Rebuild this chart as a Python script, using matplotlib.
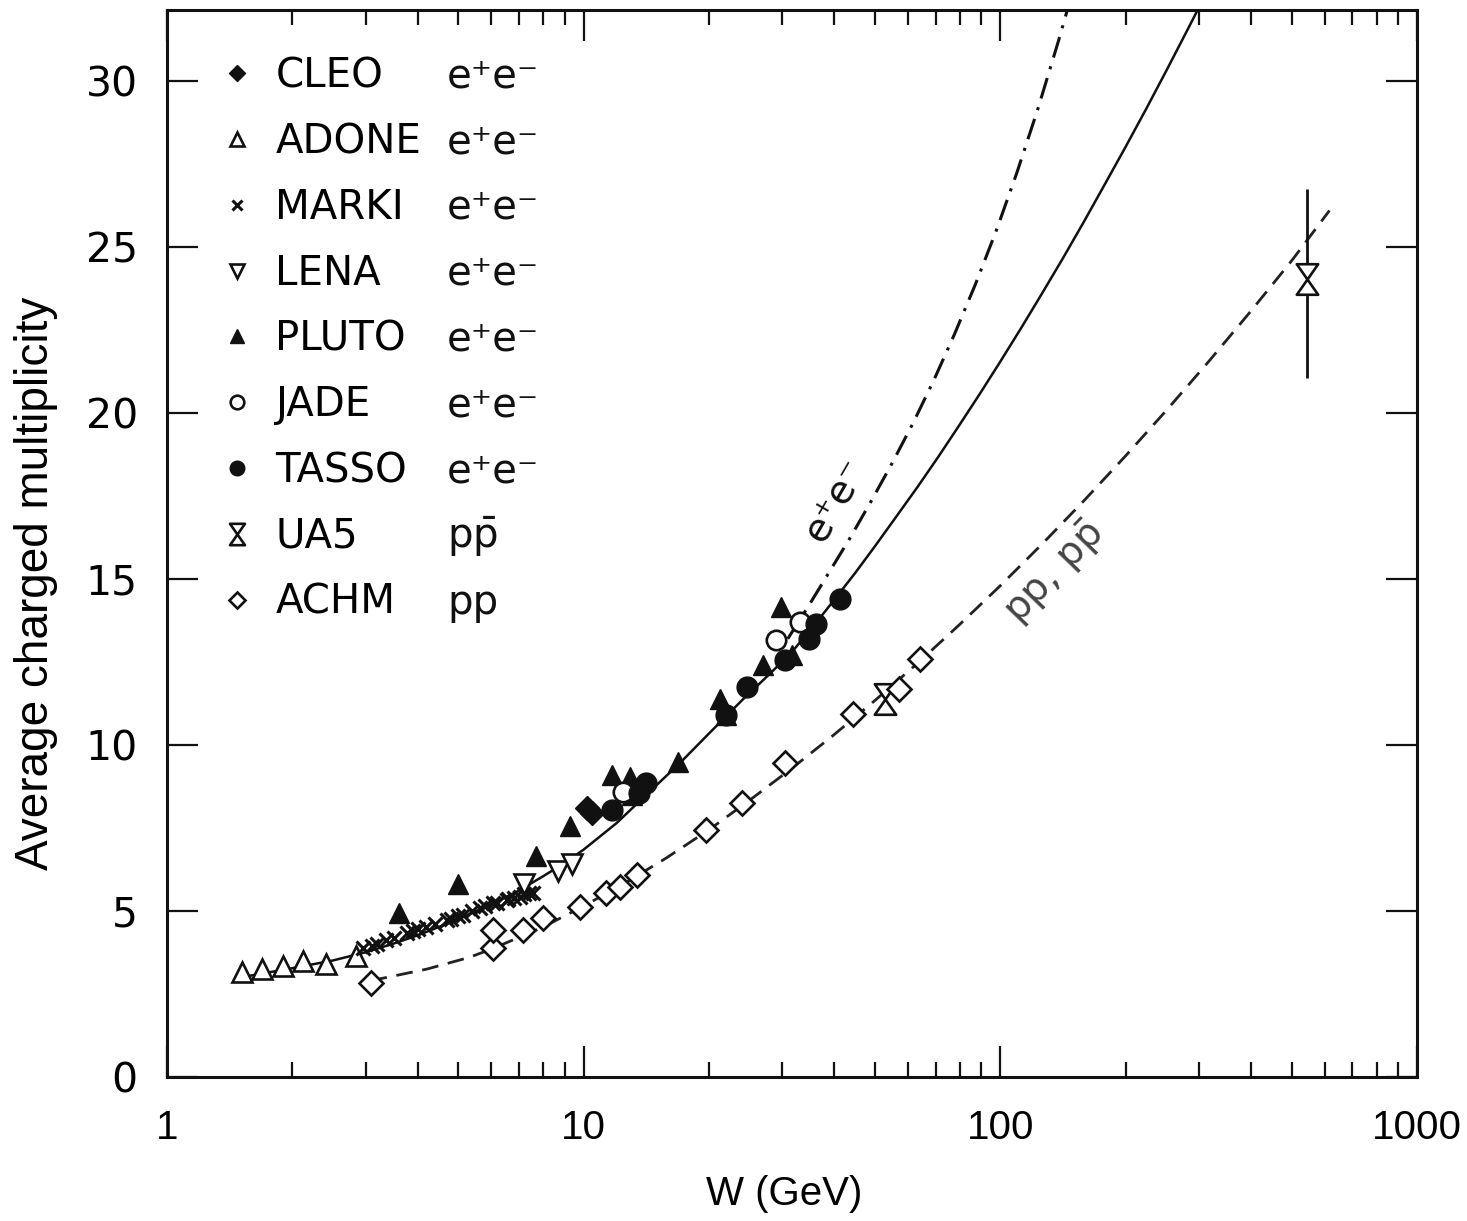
#average charged multiplicity vs W, e+e- and pp data with fits

import numpy as np
import matplotlib
matplotlib.use("Agg")
import matplotlib.pyplot as plt
from matplotlib.path import Path
from matplotlib import font_manager

#fonts

names = {f.name for f in font_manager.fontManager.ttflist}
narrow = 'Liberation Sans Narrow' if 'Liberation Sans Narrow' in names else 'Liberation Sans'
narrow_size = 32 if narrow == 'Liberation Sans Narrow' else 29
plt.rcParams['font.family'] = ['DejaVu Sans']
plt.rcParams['mathtext.fontset'] = 'dejavusans'

#data (W in GeV, multiplicity)

cleo_w = [10.2, 10.5]
cleo_n = [8.1, 7.95]

adone_w = [1.51, 1.69, 1.90, 2.12, 2.41, 2.85]
adone_n = [3.15, 3.25, 3.35, 3.5, 3.4, 3.65]

marki_w = [2.96, 3.1, 3.2, 3.36, 3.5, 3.76, 3.9, 4.0, 4.19, 4.4, 4.69, 4.8, 5.0, 5.14,
           5.4, 5.63, 5.8, 6.06, 6.2, 6.53, 6.6, 6.8, 7.03, 7.2, 7.4, 7.56]
marki_n = [3.88, 3.95, 4.0, 4.13, 4.2, 4.33, 4.4, 4.45, 4.53, 4.6, 4.73, 4.75, 4.85, 4.88,
           5.0, 5.08, 5.15, 5.23, 5.25, 5.33, 5.35, 5.4, 5.43, 5.5, 5.55, 5.53]

lena_w = [7.2, 8.7, 9.4]
lena_n = [5.8, 6.2, 6.42]

pluto_w = [3.6, 5.0, 7.7, 9.3, 11.7, 12.9, 13.1, 16.8, 21.3, 22.0, 27.0, 29.8, 31.6]
pluto_n = [4.95, 5.8, 6.65, 7.55, 9.1, 9.05, 8.5, 9.5, 11.4, 10.9, 12.4, 14.15, 12.7]

jade_w = [12.4, 29.0, 33.0]
jade_n = [8.6, 13.15, 13.7]

tasso_w = [11.7, 13.6, 14.1, 22.0, 24.6, 30.5, 34.8, 36.1, 41.3]
tasso_n = [8.05, 8.55, 8.85, 10.9, 11.75, 12.55, 13.2, 13.65, 14.4]

ua5_w = [53.0, 546.0]
ua5_n = [11.4, 24.05]
ua5_err_lo = [0.0, 3.0]
ua5_err_hi = [0.0, 2.7]

achm_w = [3.08, 6.06, 6.06, 7.17, 8.0, 9.8, 11.3, 12.2, 13.4, 19.7, 24.0, 30.5, 44.4, 57.0, 64.0]
achm_n = [2.83, 3.88, 4.43, 4.43, 4.78, 5.13, 5.55, 5.73, 6.1, 7.44, 8.24, 9.45, 10.95, 11.7, 12.6]

#curves

ee_fit_w = [1.5, 2.0, 2.5, 3.0, 3.5, 4.0, 5.0, 6.0, 7.0, 8.0, 9.0, 10.0, 12.0, 14.0, 17.0, 20.0,
            24.0, 28.0, 31.6, 35.5, 39.8, 44.7, 50.1, 56.2, 63.1, 70.8, 79.4, 89.1, 100.0,
            112.2, 125.9, 141.3, 158.5, 177.8, 199.5, 223.9, 251.2, 281.8, 302.0]
ee_fit_n = [3.0, 3.28, 3.51, 3.76, 4.02, 4.27, 4.75, 5.2, 5.62, 6.05, 6.45, 6.85, 7.65, 8.45,
            9.45, 10.35, 11.35, 12.15, 12.8, 13.56, 14.35, 15.16, 16.0, 16.87, 17.75, 18.66,
            19.6, 20.56, 21.55, 22.56, 23.6, 24.66, 25.75, 26.87, 28.0, 29.16, 30.35, 31.56, 32.3]

ee_qcd_w = [30.9, 34.7, 38.9, 43.7, 49.0, 55.0, 61.7, 69.2, 77.6, 87.1, 97.7, 109.6, 123.0,
            138.0, 147.9]
ee_qcd_n = [13.2, 14.2, 15.22, 16.26, 17.35, 18.49, 19.69, 20.98, 22.37, 23.87, 25.48, 27.24,
            29.15, 31.22, 32.54]

pp_fit_w = [3.08, 3.55, 4.2, 5.3, 6.0, 7.94, 10.0, 12.6, 15.8, 20.0, 25.1, 31.6, 39.8, 50.1,
            63.1, 79.4, 100.0, 125.9, 158.5, 199.5, 251.2, 316.2, 398.1, 501.2, 616.6]
pp_fit_n = [2.9, 3.06, 3.25, 3.6, 3.85, 4.5, 5.15, 5.85, 6.6, 7.45, 8.35, 9.3, 10.3, 11.35,
            12.45, 13.6, 14.8, 16.05, 17.35, 18.7, 20.1, 21.55, 23.05, 24.6, 26.1]

reactions = ['e⁺e⁻'] * 7 + [r'$\mathrm{p\bar{p}}$', 'pp']

#hourglass marker for UA5

hourglass = Path([(-0.35, 0.5), (0.35, 0.5), (-0.35, -0.5), (0.35, -0.5), (-0.35, 0.5)],
                 [Path.MOVETO, Path.LINETO, Path.LINETO, Path.LINETO, Path.CLOSEPOLY])

#figure

figure = plt.figure(figsize=(14.67, 12.21), dpi=100)
axis = figure.add_axes([0.1138, 0.1179, 0.8521, 0.8739])
ink = '#111111'

axis.plot(ee_fit_w, ee_fit_n, '-', color=ink, lw=1.8, zorder=2)
axis.plot(ee_qcd_w, ee_qcd_n, color=ink, lw=2.2, linestyle=(0, (7, 3, 1, 3)), zorder=2)
axis.plot(pp_fit_w, pp_fit_n, color='#222222', lw=2.0, linestyle=(0, (6, 3.5)), zorder=2)

open_kw = dict(linestyle='none', markerfacecolor='white', markeredgecolor=ink, markeredgewidth=1.9)
full_kw = dict(linestyle='none', color=ink)

axis.plot(cleo_w, cleo_n, marker='D', markersize=12, label='CLEO', **full_kw)
axis.plot(adone_w, adone_n, marker='^', markersize=14, label='ADONE', **open_kw)
axis.plot(marki_w, marki_n, marker='x', markersize=10, markeredgewidth=2.2, label='MARKI', **full_kw)
axis.plot(lena_w, lena_n, marker='v', markersize=14, label='LENA', **open_kw)
axis.plot(pluto_w, pluto_n, marker='^', markersize=15, label='PLUTO', **full_kw)
axis.plot(jade_w, jade_n, marker='o', markersize=14, label='JADE', **open_kw)
axis.plot(tasso_w, tasso_n, marker='o', markersize=15, label='TASSO', **full_kw)
axis.errorbar(ua5_w[1:], ua5_n[1:], yerr=[ua5_err_lo[1:], ua5_err_hi[1:]], fmt='none',
              ecolor=ink, elinewidth=2.0, capsize=0)
axis.plot(ua5_w, ua5_n, marker=hourglass, markersize=22, label='UA5', **open_kw)
axis.plot(achm_w, achm_n, marker='D', markersize=12, label='ACHM', **open_kw)

#curve labels

axis.text(40.2, 17.4, 'e⁺e⁻', rotation=60, ha='center', va='center', fontsize=28, color=ink)
axis.text(134.7, 15.2, r'$\mathrm{pp,\,p\bar{p}}$', rotation=46, ha='center', va='center',
          fontsize=28, color='#444444')

#axes

axis.set_xscale('log')
axis.set_xlim(1, 1000)
axis.set_ylim(0, 32.14)
axis.set_xticks([1, 10, 100, 1000])
axis.set_xticklabels(['1', '10', '100', '1000'], fontfamily=narrow, fontsize=narrow_size)
axis.set_yticks([0, 5, 10, 15, 20, 25, 30])
axis.set_yticklabels(['0', '5', '10', '15', '20', '25', '30'], fontsize=29.5)
axis.tick_params(which='both', direction='in', top=True, right=True, width=1.6, color=ink)
axis.tick_params(which='major', length=22)
axis.tick_params(which='minor', length=11)
axis.tick_params(axis='x', which='major', pad=23)
axis.tick_params(axis='y', which='major', pad=21)
for spine in axis.spines.values():
    spine.set_linewidth(2.2)
    spine.set_color(ink)

axis.set_xlabel('W (GeV)', fontfamily=narrow, fontsize=narrow_size)
axis.xaxis.set_label_coords(0.494, -0.092)
axis.set_ylabel('Average charged multiplicity', fontfamily='Liberation Sans', fontsize=33)
axis.yaxis.set_label_coords(-0.087, 0.463)

#legend with the reaction column next to it

legend = axis.legend(loc='upper left', bbox_to_anchor=(0.0384, 0.9565), frameon=False,
                     fontsize=29, handlelength=1.1, handletextpad=0.4, labelspacing=0.64,
                     borderpad=0, borderaxespad=0, markerscale=0.7)

figure.canvas.draw()
renderer = figure.canvas.get_renderer()
for txt, reaction in zip(legend.get_texts(), reactions):
    box = txt.get_window_extent(renderer)
    y_axes = axis.transAxes.inverted().transform((0, (box.y0 + box.y1) / 2))[1]
    axis.text(0.224, y_axes, reaction, transform=axis.transAxes, ha='left', va='center',
              fontsize=29, color=ink)

figure.savefig('out.png', dpi=100)
